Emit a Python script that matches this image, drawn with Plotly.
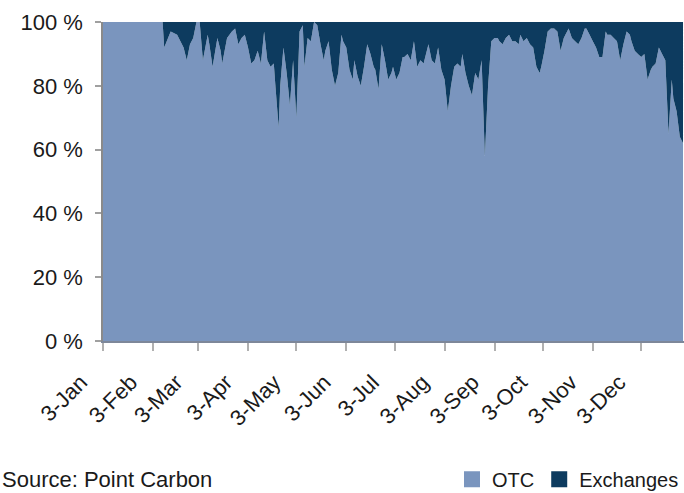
import datetime as dt
import plotly.graph_objects as go

# ---- data (day offset from 3-Jan, OTC share in %) ----
day_offset = [
    0, 37, 38, 42, 46, 50, 52, 54, 56, 58, 60, 62, 65, 66, 68, 71, 73, 74, 77, 80,
    82, 84, 86, 88, 90, 92, 94, 96, 98, 100, 102, 104, 106, 107, 109, 110, 112, 114, 116, 118,
    120, 122, 124, 125, 127, 129, 131, 133, 135, 137, 138, 140, 142, 144, 146, 148, 149, 151, 153, 155,
    156, 158, 160, 162, 164, 166, 168, 169, 171, 173, 175, 177, 179, 180, 182, 184, 186, 187, 189, 191,
    193, 195, 197, 199, 200, 202, 204, 206, 208, 210, 212, 214, 216, 218, 220, 222, 223, 225, 227, 229,
    231, 233, 235, 237, 239, 241, 243, 245, 246, 248, 250, 252, 254, 256, 258, 259, 261, 263, 265, 267,
    269, 271, 272, 274, 276, 278, 280, 282, 284, 286, 287, 289, 291, 293, 295, 297, 299, 300, 302, 304,
    306, 308, 310, 312, 313, 315, 317, 319, 321, 323, 325, 327, 328, 330, 332, 334, 336, 338, 340, 341,
    343, 345, 347, 349, 351, 353, 354, 356, 358, 360,
]
otc_share = [
    100, 100, 92, 97, 96, 92, 88, 93, 95, 100, 100, 88, 96, 93, 86, 95, 91, 87, 95, 97,
    98, 93, 95, 96, 92, 87, 88, 91, 87, 97, 88, 86, 87, 80, 67, 80, 92, 84, 74, 88,
    70, 97, 99, 86, 95, 94, 100, 99, 93, 88, 91, 94, 85, 80, 84, 96, 94, 92, 85, 82,
    88, 83, 80, 86, 93, 90, 86, 85, 79, 93, 88, 82, 84, 86, 82, 84, 89, 89, 90, 88,
    94, 86, 88, 87, 89, 93, 88, 87, 92, 85, 82, 72, 80, 86, 87, 86, 90, 84, 80, 77,
    84, 82, 88, 58, 80, 94, 95, 95, 94, 93, 95, 96, 94, 94, 93, 96, 94, 95, 93, 92,
    86, 84, 86, 91, 97, 98, 98, 97, 91, 95, 96, 98, 95, 94, 93, 95, 98, 98, 96, 94,
    92, 89, 89, 97, 96, 96, 95, 94, 88, 93, 97, 96, 94, 91, 90, 89, 90, 82, 85, 86,
    87, 92, 90, 88, 65, 82, 76, 72, 64, 62,
]
exchanges_share = [100 - v for v in otc_share]

tick_dates = ["2007-01-03", "2007-02-03", "2007-03-03", "2007-04-03", "2007-05-03", "2007-06-03",
              "2007-07-03", "2007-08-03", "2007-09-03", "2007-10-03", "2007-11-03", "2007-12-03"]
tick_labels = ["3-Jan", "3-Feb", "3-Mar", "3-Apr", "3-May", "3-Jun",
               "3-Jul", "3-Aug", "3-Sep", "3-Oct", "3-Nov", "3-Dec"]
y_ticks = [0, 20, 40, 60, 80, 100]
y_tick_labels = ["0 %", "20 %", "40 %", "60 %", "80 %", "100 %"]

series_names = ["OTC", "Exchanges"]
OTC_COLOR = "#7a95be"
EXCH_COLOR = "#0d3b5f"

start = dt.datetime(2007, 1, 3)
dates = [start + dt.timedelta(days=d) for d in day_offset]

FONT = "Liberation Sans, Arial, sans-serif"

fig = go.Figure()
fig.add_trace(go.Scatter(x=dates, y=otc_share, stackgroup="one", mode="none",
                         fillcolor=OTC_COLOR, name=series_names[0], showlegend=False,
                         hoverinfo="x+y"))
fig.add_trace(go.Scatter(x=dates, y=exchanges_share, stackgroup="one", mode="none",
                         fillcolor=EXCH_COLOR, name=series_names[1], showlegend=False,
                         hoverinfo="x+y"))
# legend entries (square swatches)
for nm, col in zip(series_names, [OTC_COLOR, EXCH_COLOR]):
    fig.add_trace(go.Scatter(x=[None], y=[None], mode="markers", name=nm,
                             marker=dict(symbol="square", size=18, color=col)))

fig.update_layout(
    width=684, height=493,
    margin=dict(l=103, r=0, t=22, b=152, autoexpand=False),
    paper_bgcolor="white", plot_bgcolor="white",
    font=dict(family=FONT, size=22, color="#1a1a1a"),
    showlegend=True,
    legend=dict(orientation="h", x=1.0, xanchor="right", y=-0.433, yanchor="middle",
                font=dict(size=20, color="#1a1a1a"), itemwidth=30,
                bgcolor="rgba(0,0,0,0)", traceorder="normal",
                borderwidth=0),
    xaxis=dict(
        type="date",
        range=[start, start + dt.timedelta(days=360.6)],
        tickvals=tick_dates, ticktext=tick_labels, tickangle=-45,
        showline=True, linecolor="#7d8799", linewidth=1.5,
        ticks="outside", ticklen=8, tickcolor="#b0b0b0", tickwidth=1.5,
        showgrid=False, zeroline=False, automargin=False,
        ticklabelstandoff=10, ticklabelshift=-22,
        tickfont=dict(size=22, color="#1a1a1a"),
    ),
    yaxis=dict(
        range=[0, 100], tickvals=y_ticks, ticktext=y_tick_labels,
        showline=True, linecolor="#8a8a8a", linewidth=1.5,
        ticks="outside", ticklen=6, tickcolor="#a0a0a0", tickwidth=1.5,
        showgrid=False, zeroline=False, automargin=False,
        ticklabelstandoff=8,
        tickfont=dict(size=22, color="#1a1a1a"),
    ),
    annotations=[dict(text="Source: Point Carbon", xref="paper", yref="paper",
                      x=-103 / 581, y=-0.433, xanchor="left", yanchor="middle",
                      showarrow=False, font=dict(size=22, color="#1a1a1a"))],
)

fig.write_html("out.html", config={"displayModeBar": False},
               post_script="document.body.style.margin='0px';")
